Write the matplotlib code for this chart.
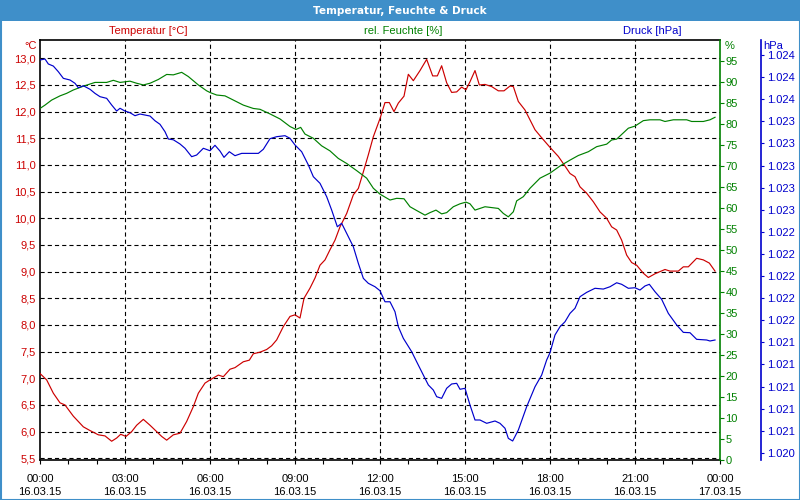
import numpy as np
import matplotlib
matplotlib.use("Agg")
import matplotlib.pyplot as plt
from matplotlib.patches import Rectangle

plt.rcParams['font.family'] = ['Liberation Sans', 'DejaVu Sans']
plt.rcParams['lines.scale_dashes'] = False

# ---------------- data ----------------
temp_h = [0.0, 0.235, 0.471, 0.706, 0.882, 1.176, 1.529, 1.765, 2.059, 2.294, 2.529, 2.706, 2.847,
          3.035, 3.235, 3.412, 3.647, 3.882, 4.118, 4.294, 4.471, 4.706, 4.941, 5.176, 5.412, 5.588,
          5.824, 6.0, 6.294, 6.471, 6.706, 6.882, 7.176, 7.388, 7.529, 7.765, 8.0, 8.176, 8.353,
          8.588, 8.824, 9.0, 9.176, 9.318, 9.529, 9.706, 9.882, 10.059, 10.235, 10.412, 10.588,
          10.824, 11.059, 11.235, 11.412, 11.588, 11.765, 12.0, 12.176, 12.329, 12.494, 12.647,
          12.847, 13.0, 13.176, 13.412, 13.647, 13.859, 14.024, 14.176, 14.353, 14.529, 14.706,
          14.882, 15.035, 15.176, 15.353, 15.506, 15.706, 15.941, 16.176, 16.376, 16.588, 16.706,
          16.882, 17.118, 17.471, 17.706, 18.0, 18.294, 18.529, 18.706, 18.882, 19.059, 19.294,
          19.529, 19.765, 20.0, 20.176, 20.353, 20.529, 20.706, 20.882, 21.059, 21.294, 21.471,
          21.706, 21.882, 22.059, 22.235, 22.529, 22.706, 22.882, 23.176, 23.412, 23.624, 23.824]
temp_v = [7.09, 6.97, 6.72, 6.54, 6.50, 6.29, 6.09, 6.02, 5.94, 5.92, 5.82, 5.88, 5.95,
          5.91, 6.00, 6.12, 6.23, 6.12, 6.00, 5.91, 5.84, 5.94, 5.97, 6.19, 6.47, 6.72,
          6.91, 6.97, 7.06, 7.03, 7.17, 7.20, 7.31, 7.34, 7.46, 7.49, 7.54, 7.61, 7.72,
          7.97, 8.16, 8.19, 8.13, 8.50, 8.69, 8.88, 9.12, 9.22, 9.41, 9.59, 9.84,
          10.09, 10.44, 10.56, 10.87, 11.19, 11.53, 11.87, 12.17, 12.17, 12.00, 12.16,
          12.29, 12.70, 12.58, 12.77, 12.98, 12.67, 12.67, 12.86, 12.54, 12.36, 12.37,
          12.46, 12.41, 12.56, 12.77, 12.50, 12.51, 12.47, 12.39, 12.39, 12.48, 12.47,
          12.19, 12.03, 11.66, 11.51, 11.33, 11.16, 10.98, 10.84, 10.78, 10.59, 10.47,
          10.31, 10.12, 10.00, 9.84, 9.78, 9.59, 9.31, 9.17, 9.12, 8.97, 8.89,
          8.96, 9.00, 9.04, 9.01, 9.01, 9.09, 9.09, 9.25, 9.22, 9.16, 9.01]

hum_h = [0.0, 0.176, 0.412, 0.706, 0.941, 1.176, 1.529, 1.941, 2.353, 2.588, 2.824, 3.176, 3.412,
         3.647, 3.882, 4.176, 4.471, 4.706, 5.0, 5.235, 5.588, 5.882, 6.0, 6.235, 6.529, 6.824,
         7.176, 7.529, 7.765, 8.118, 8.471, 8.824, 9.035, 9.2, 9.353, 9.647, 9.941, 10.235,
         10.529, 10.824, 11.176, 11.529, 11.765, 12.0, 12.353, 12.588, 12.847, 13.059, 13.294,
         13.588, 13.765, 13.976, 14.176, 14.353, 14.588, 14.824, 15.035, 15.176, 15.353, 15.706,
         16.176, 16.353, 16.529, 16.706, 16.824, 17.059, 17.294, 17.647, 18.0, 18.353, 18.706,
         19.0, 19.353, 19.647, 20.0, 20.176, 20.353, 20.765, 21.0, 21.294, 21.529, 21.882,
         22.059, 22.353, 22.824, 23.0, 23.412, 23.647, 23.824]
hum_v = [83.7, 84.5, 85.7, 86.7, 87.3, 88.1, 89.0, 89.9, 89.9, 90.4, 89.9, 90.2, 89.7,
         89.3, 89.7, 90.6, 91.8, 91.7, 92.3, 91.3, 89.3, 87.9, 87.5, 86.9, 86.7, 85.7,
         84.5, 83.7, 83.5, 82.4, 81.2, 79.4, 78.7, 79.2, 77.6, 76.6, 74.8, 73.6,
         71.8, 70.6, 68.9, 67.1, 64.7, 63.3, 61.9, 62.3, 62.2, 60.3, 59.4,
         58.3, 58.9, 59.5, 58.6, 58.9, 60.3, 61.0, 61.4, 61.0, 59.5, 60.3,
         59.9, 58.7, 57.9, 59.1, 61.7, 62.7, 64.7, 67.1, 68.3, 70.0, 71.4,
         72.5, 73.4, 74.6, 75.2, 76.2, 76.4, 79.0, 79.5, 80.8, 81.0, 81.0,
         80.6, 81.0, 81.0, 80.6, 80.6, 81.0, 81.6]

pres_h = [0.0, 0.176, 0.294, 0.471, 0.647, 0.824, 1.059, 1.235, 1.353, 1.529, 1.765, 1.941, 2.118,
          2.353, 2.529, 2.706, 2.824, 3.0, 3.176, 3.353, 3.529, 3.882, 4.059, 4.235, 4.412, 4.529,
          4.706, 4.941, 5.118, 5.353, 5.529, 5.765, 6.0, 6.176, 6.353, 6.494, 6.682, 6.882, 7.118,
          7.706, 7.882, 8.118, 8.353, 8.647, 8.824, 9.0, 9.235, 9.471, 9.647, 9.882, 10.118,
          10.294, 10.494, 10.647, 10.824, 11.059, 11.235, 11.412, 11.588, 11.824, 12.0, 12.176,
          12.353, 12.529, 12.647, 12.824, 13.118, 13.294, 13.529, 13.706, 13.882, 14.0, 14.176,
          14.353, 14.529, 14.706, 14.824, 15.0, 15.176, 15.353, 15.529, 15.765, 16.059, 16.235,
          16.412, 16.529, 16.682, 16.882, 17.176, 17.471, 17.706, 17.882, 18.0, 18.176, 18.353,
          18.529, 18.706, 18.882, 19.059, 19.294, 19.588, 19.882, 20.118, 20.353, 20.529, 20.765,
          21.0, 21.176, 21.353, 21.506, 21.706, 21.941, 22.176, 22.471, 22.706, 22.941, 23.176,
          23.529, 23.647, 23.824]
pres_v = [1023.955, 1023.964, 1023.919, 1023.900, 1023.849, 1023.789, 1023.774, 1023.744, 1023.704,
          1023.722, 1023.690, 1023.653, 1023.623, 1023.608, 1023.548, 1023.493, 1023.518, 1023.493,
          1023.478, 1023.451, 1023.466, 1023.448, 1023.405, 1023.373, 1023.306, 1023.240, 1023.233,
          1023.195, 1023.156, 1023.080, 1023.095, 1023.156, 1023.134, 1023.183, 1023.131, 1023.074,
          1023.125, 1023.089, 1023.110, 1023.110, 1023.147, 1023.243, 1023.261, 1023.270, 1023.246,
          1023.186, 1023.125, 1023.005, 1022.899, 1022.839, 1022.718, 1022.597, 1022.446, 1022.477,
          1022.386, 1022.265, 1022.115, 1021.979, 1021.934, 1021.903, 1021.867, 1021.767, 1021.767,
          1021.677, 1021.541, 1021.436, 1021.315, 1021.224, 1021.104, 1021.014, 1020.968, 1020.908,
          1020.893, 1020.984, 1021.023, 1021.029, 1020.975, 1020.984, 1020.833, 1020.697, 1020.697,
          1020.667, 1020.688, 1020.667, 1020.622, 1020.531, 1020.507, 1020.606, 1020.817, 1020.998,
          1021.104, 1021.240, 1021.306, 1021.466, 1021.541, 1021.586, 1021.662, 1021.708, 1021.813,
          1021.852, 1021.889, 1021.882, 1021.903, 1021.939, 1021.925, 1021.889, 1021.894, 1021.873,
          1021.910, 1021.925, 1021.858, 1021.789, 1021.662, 1021.557, 1021.490, 1021.487, 1021.427,
          1021.421, 1021.412, 1021.421]

x_ticks = [0, 3, 6, 9, 12, 15, 18, 21, 24]
x_labels = ["00:00\n16.03.15", "03:00\n16.03.15", "06:00\n16.03.15", "09:00\n16.03.15",
            "12:00\n16.03.15", "15:00\n16.03.15", "18:00\n16.03.15", "21:00\n16.03.15",
            "00:00\n17.03.15"]
temp_ticks = [5.5, 6.0, 6.5, 7.0, 7.5, 8.0, 8.5, 9.0, 9.5, 10.0, 10.5, 11.0, 11.5, 12.0, 12.5, 13.0]
hum_ticks = [0, 5, 10, 15, 20, 25, 30, 35, 40, 45, 50, 55, 60, 65, 70, 75, 80, 85, 90, 95]
pres_ticks = [1020.4, 1020.6, 1020.8, 1021.0, 1021.2, 1021.4, 1021.6, 1021.8, 1022.0, 1022.2,
              1022.4, 1022.6, 1022.8, 1023.0, 1023.2, 1023.4, 1023.6, 1023.8, 1024.0]

title = "Temperatur, Feuchte & Druck"
temp_label = "Temperatur [°C]"
hum_label = "rel. Feuchte [%]"
pres_label = "Druck [hPa]"

# ---------------- style ----------------
RED = '#cc0000'
GREEN = '#008000'
BLUE = '#0000cc'
BAR = '#3f8fc9'
FS = 8

fig = plt.figure(figsize=(8, 5), dpi=100)
fig.patch.set_facecolor('white')

W, H = 800, 500
PT = 72.0 / 100.0  # points per pixel


def fx(px):
    return px / W


def fy(py):
    return 1 - py / H


# title bar and frame
fig.patches.append(Rectangle((0, fy(21)), 1, 21 / H, transform=fig.transFigure,
                             facecolor=BAR, edgecolor='none', zorder=0))
fig.patches.append(Rectangle((0.5 / W, 0.5 / H), 1 - 1.0 / W, 1 - 1.0 / H, transform=fig.transFigure,
                             facecolor='none', edgecolor=BAR, linewidth=1.5, zorder=1))
fig.text(0.5, fy(10.5), title, color='white', fontsize=7.6, fontweight='bold',
         ha='center', va='center', family=['DejaVu Sans'])

ax = fig.add_axes([fx(40), fy(460), fx(680), 420 / H])
ax.set_facecolor('white')
ax.plot(temp_h, temp_v, color=RED, lw=0.85, zorder=3)
ax.set_xlim(0, 24)
ax.set_ylim(5.468, 13.343)
ax.set_yticks(temp_ticks)
ax.set_yticklabels([f"{v:.1f}".replace('.', ',') for v in temp_ticks], color=RED, fontsize=FS)
ax.tick_params(axis='y', length=0, pad=3)
ax.set_xticks(x_ticks)
ax.set_xticklabels(x_labels, fontsize=FS, linespacing=1.45)
ax.set_xticks(range(0, 25), minor=True)
ax.tick_params(axis='x', which='both', direction='out', length=3, width=0.8, pad=7, color='black')
for s in ['top', 'bottom', 'left']:
    ax.spines[s].set_color('black')
    ax.spines[s].set_linewidth(1.2)
ax.spines['right'].set_visible(False)

dash = (0, (3.0, 2.2))
for v in temp_ticks:
    ax.axhline(v, color='black', lw=0.8, ls=dash, zorder=1)
for v in x_ticks[1:-1]:
    ax.axvline(v, color='black', lw=0.8, ls=dash, zorder=1)

ax2 = ax.twinx()
ax2.plot(hum_h, hum_v, color=GREEN, lw=0.85, zorder=3)
ax2.set_ylim(0, 100)
ax2.set_yticks(hum_ticks)
ax2.set_yticklabels([str(v) for v in hum_ticks], color=GREEN, fontsize=FS)
ax2.tick_params(axis='y', direction='out', length=3, width=0.8, pad=1, color=GREEN)
ax2.spines['right'].set_color(GREEN)
ax2.spines['right'].set_linewidth(1.2)
for s in ['top', 'bottom', 'left']:
    ax2.spines[s].set_visible(False)

ax3 = ax.twinx()
ax3.spines['right'].set_position(('outward', 41 * PT))
ax3.spines['right'].set_color(BLUE)
ax3.spines['right'].set_linewidth(1.2)
for s in ['top', 'bottom', 'left']:
    ax3.spines[s].set_visible(False)
ax3.plot(pres_h, pres_v, color=BLUE, lw=0.85, zorder=3)
ax3.set_ylim(1020.335, 1024.136)
ax3.set_yticks(pres_ticks)
ax3.set_yticklabels([f"{int(round(v)):,}".replace(',', '.') for v in pres_ticks], color=BLUE, fontsize=FS)
ax3.tick_params(axis='y', direction='out', length=2.5, width=0.8, pad=2, color=BLUE)
ax3.set_xlim(0, 24)

# headers
fig.text(fx(148), fy(31), temp_label, color=RED, fontsize=FS, ha='center', va='center')
fig.text(fx(403), fy(31), hum_label, color=GREEN, fontsize=FS, ha='center', va='center')
fig.text(fx(652), fy(31), pres_label, color=BLUE, fontsize=FS, ha='center', va='center')
fig.text(fx(37), fy(46), "°C", color=RED, fontsize=FS, ha='right', va='center')
fig.text(fx(725), fy(46), "%", color=GREEN, fontsize=FS, ha='left', va='center')
fig.text(fx(763), fy(46), "hPa", color=BLUE, fontsize=FS, ha='left', va='center')

fig.savefig('out.png', dpi=100, facecolor='white')
